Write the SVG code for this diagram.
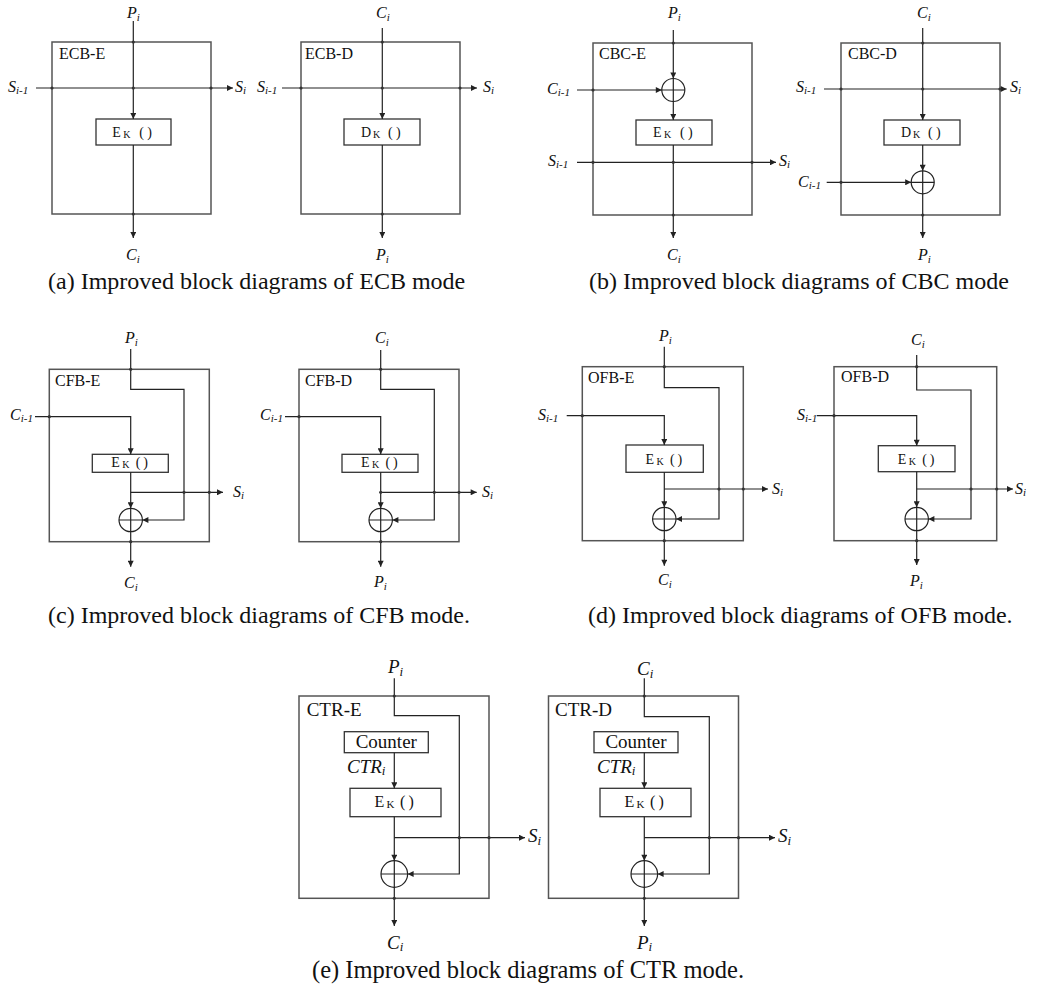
<svg xmlns="http://www.w3.org/2000/svg" width="1040" height="991" viewBox="0 0 1040 991">
<defs>
<marker id="ah" viewBox="0 0 10 10" refX="10" refY="5" markerWidth="8" markerHeight="6" markerUnits="userSpaceOnUse" orient="auto"><path d="M0,0 L10,5 L0,10 z" fill="#222"/></marker>
<style>
.box{fill:none;stroke:#555;stroke-width:1.5}
.blk{fill:#fff;stroke:#333;stroke-width:1.3}
.ln{fill:none;stroke:#222;stroke-width:1.2}
.arr{marker-end:url(#ah)}
.dot{fill:#333}
.xor{fill:#fff;stroke:#222;stroke-width:1.2}
.lab{font-family:"Liberation Serif",serif;font-style:italic;font-size:16px;fill:#111}
.lab3{font-family:"Liberation Serif",serif;font-style:italic;font-size:19px;fill:#111}
.sub{font-size:11px}
.sub3{font-size:13px}
.ttl{font-family:"Liberation Serif",serif;font-size:16px;fill:#111}
.ttl3{font-family:"Liberation Serif",serif;font-size:19px;fill:#111}
.ek{font-family:"Liberation Serif",serif;font-size:14px;fill:#111}
.ek3{font-family:"Liberation Serif",serif;font-size:16px;fill:#111}
.k{font-size:10px}
.k3{font-size:11px}
.cap{font-family:"Liberation Serif",serif;font-size:24px;fill:#111}
.cap3{font-family:"Liberation Serif",serif;font-size:24.5px;fill:#111}
</style>
</defs>
<rect width="1040" height="991" fill="#fff"/>

<!-- ===== ECB-E ===== -->
<g id="ecb-e">
<rect class="box" x="52" y="42" width="159" height="172"/>
<text class="ttl" x="59" y="59">ECB-E</text>
<rect class="blk" x="96" y="119" width="75" height="26"/>
<text class="ek" transform="translate(133.3,137)"><tspan x="-21" y="0">E</tspan><tspan class="k" x="-10" y="1">K</tspan><tspan x="6" y="0">(</tspan><tspan x="14" y="0">)</tspan></text>
</g>
<!-- ===== ECB-D ===== -->
<g id="ecb-d">
<rect class="box" x="301" y="42" width="159" height="172"/>
<text class="ttl" x="305" y="59">ECB-D</text>
<rect class="blk" x="344" y="119" width="76" height="26"/>
<text class="ek" transform="translate(382,137)"><tspan x="-21" y="0">D</tspan><tspan class="k" x="-9" y="1">K</tspan><tspan x="6" y="0">(</tspan><tspan x="14" y="0">)</tspan></text>
</g>
<!-- ===== CBC-E ===== -->
<g id="cbc-e">
<rect class="box" x="593" y="43" width="159" height="172"/>
<text class="ttl" x="599" y="59">CBC-E</text>
<rect class="blk" x="636" y="120" width="76" height="25"/>
<text class="ek" transform="translate(674,137)"><tspan x="-21" y="0">E</tspan><tspan class="k" x="-10" y="1">K</tspan><tspan x="6" y="0">(</tspan><tspan x="14" y="0">)</tspan></text>
<g id="cbc-e-xor"><circle class="xor" cx="673.3" cy="90" r="11.5"/><path class="ln" d="M661.8,90 H684.8 M673.3,78.5 V101.5"/></g>
</g>
<!-- ===== CBC-D ===== -->
<g id="cbc-d">
<rect class="box" x="841" y="43" width="159" height="172"/>
<text class="ttl" x="848" y="59">CBC-D</text>
<rect class="blk" x="884" y="120" width="76" height="25"/>
<text class="ek" transform="translate(922,137)"><tspan x="-21" y="0">D</tspan><tspan class="k" x="-9" y="1">K</tspan><tspan x="6" y="0">(</tspan><tspan x="14" y="0">)</tspan></text>
<g id="cbc-d-xor"><circle class="xor" cx="922.7" cy="182.3" r="11.5"/><path class="ln" d="M911.2,182.3 H934.2 M922.7,170.8 V193.8"/></g>
</g>

<!-- ===== CFB-E ===== -->
<g id="cfb-e">
<rect class="box" x="49.3" y="369.3" width="160" height="172.4"/>
<text class="ttl" x="55" y="386">CFB-E</text>
<rect class="blk" x="92.3" y="454.3" width="76" height="18"/>
<text class="ek" transform="translate(130.3,467)"><tspan x="-19" y="0">E</tspan><tspan class="k" x="-8" y="1">K</tspan><tspan x="5.5" y="0">(</tspan><tspan x="13" y="0">)</tspan></text>
<g id="cfb-e-xor"><circle class="xor" cx="130.7" cy="520" r="11.7"/><path class="ln" d="M119,520 H142.4 M130.7,508.3 V531.7"/></g>
</g>
<!-- ===== CFB-D ===== -->
<g id="cfb-d">
<rect class="box" x="299" y="369.3" width="160" height="172.4"/>
<text class="ttl" x="305" y="386">CFB-D</text>
<rect class="blk" x="342" y="454.3" width="76" height="18"/>
<text class="ek" transform="translate(380,467)"><tspan x="-19" y="0">E</tspan><tspan class="k" x="-8" y="1">K</tspan><tspan x="5.5" y="0">(</tspan><tspan x="13" y="0">)</tspan></text>
<g id="cfb-d-xor"><circle class="xor" cx="380.7" cy="520" r="11.7"/><path class="ln" d="M369,520 H392.4 M380.7,508.3 V531.7"/></g>
</g>
<!-- ===== OFB-E ===== -->
<g id="ofb-e">
<rect class="box" x="582.3" y="366.7" width="161" height="174"/>
<text class="ttl" x="588" y="383">OFB-E</text>
<rect class="blk" x="626" y="445" width="77.3" height="27.3"/>
<text class="ek" transform="translate(664.6,464)"><tspan x="-19" y="0">E</tspan><tspan class="k" x="-8" y="1">K</tspan><tspan x="5.5" y="0">(</tspan><tspan x="13" y="0">)</tspan></text>
<g id="ofb-e-xor"><circle class="xor" cx="664.3" cy="519" r="11.7"/><path class="ln" d="M652.6,519 H676 M664.3,507.3 V530.7"/></g>
</g>
<!-- ===== OFB-D ===== -->
<g id="ofb-d">
<rect class="box" x="834" y="366.7" width="162.7" height="174"/>
<text class="ttl" x="841" y="382">OFB-D</text>
<rect class="blk" x="878.3" y="445.7" width="76.7" height="26"/>
<text class="ek" transform="translate(916.7,464)"><tspan x="-19" y="0">E</tspan><tspan class="k" x="-8" y="1">K</tspan><tspan x="5.5" y="0">(</tspan><tspan x="13" y="0">)</tspan></text>
<g id="ofb-d-xor"><circle class="xor" cx="916.7" cy="519" r="11.7"/><path class="ln" d="M905,519 H928.4 M916.7,507.3 V530.7"/></g>
</g>

<!-- ===== CTR-E ===== -->
<g id="ctr-e">
<rect class="box" x="299" y="696" width="190" height="202.3"/>
<text class="ttl3" x="306.7" y="716">CTR-E</text>
<rect class="blk" x="344.3" y="731.7" width="84" height="21"/>
<text class="ttl3" x="386.3" y="747.5" text-anchor="middle">Counter</text>
<rect class="blk" x="350" y="788.3" width="91" height="28.4"/>
<text class="ek3" transform="translate(395.5,807)"><tspan x="-21" y="0">E</tspan><tspan class="k3" x="-9" y="1">K</tspan><tspan x="4.5" y="0">(</tspan><tspan x="13" y="0">)</tspan></text>
<g id="ctr-e-xor"><circle class="xor" cx="394.3" cy="874" r="13.3"/><path class="ln" d="M381,874 H407.6 M394.3,860.7 V887.3"/></g>
</g>
<!-- ===== CTR-D ===== -->
<g id="ctr-d">
<rect class="box" x="548.5" y="696" width="190" height="202.3"/>
<text class="ttl3" x="555" y="716">CTR-D</text>
<rect class="blk" x="594" y="731.7" width="84" height="21"/>
<text class="ttl3" x="636" y="747.5" text-anchor="middle">Counter</text>
<rect class="blk" x="600" y="788.3" width="91" height="28.4"/>
<text class="ek3" transform="translate(645.5,807)"><tspan x="-21" y="0">E</tspan><tspan class="k3" x="-9" y="1">K</tspan><tspan x="4.5" y="0">(</tspan><tspan x="13" y="0">)</tspan></text>
<g id="ctr-d-xor"><circle class="xor" cx="644.3" cy="874" r="13.3"/><path class="ln" d="M631,874 H657.6 M644.3,860.7 V887.3"/></g>
</g>

<!-- ===== connectors ===== -->
<g id="connectors">
<!-- ECB-E -->
<path class="ln arr" d="M133.3,21 V119"/>
<path class="ln arr" d="M133.3,145 V238"/>
<path class="ln arr" d="M36,88 H233"/>
<!-- ECB-D -->
<path class="ln arr" d="M382.3,28 V119"/>
<path class="ln arr" d="M382.3,145 V238"/>
<path class="ln arr" d="M282,88 H477"/>
<!-- CBC-E -->
<path class="ln arr" d="M673.3,30 V78.5"/>
<path class="ln arr" d="M673.3,101.5 V120"/>
<path class="ln arr" d="M673.3,145 V238"/>
<path class="ln arr" d="M577,90 H661.8"/>
<path class="ln arr" d="M577,162.3 H776"/>
<!-- CBC-D -->
<path class="ln arr" d="M922.7,28 V120"/>
<path class="ln arr" d="M824,89 H1006.7"/>
<path class="ln arr" d="M922.7,145 V170.8"/>
<path class="ln arr" d="M826.7,182.3 H911.2"/>
<path class="ln arr" d="M922.7,193.8 V238"/>
<!-- CFB-E -->
<path class="ln arr" d="M130.7,349 V389.3 H184 V520 H142.4"/>
<path class="ln arr" d="M35,416.7 H130.7 V454.3"/>
<path class="ln arr" d="M130.7,472.3 V508.3"/>
<path class="ln arr" d="M130.7,492.3 H223"/>
<path class="ln arr" d="M130.7,531.7 V566.7"/>
<!-- CFB-D -->
<path class="ln arr" d="M380.7,350 V389.3 H434.3 V520 H392.4"/>
<path class="ln arr" d="M285,416.7 H380.7 V454.3"/>
<path class="ln arr" d="M380.7,472.3 V508.3"/>
<path class="ln arr" d="M380.7,492.3 H476.7"/>
<path class="ln arr" d="M380.7,531.7 V566.7"/>
<!-- OFB-E -->
<path class="ln arr" d="M664.3,346.7 V387.7 H719 V519 H676"/>
<path class="ln arr" d="M566.7,415.7 H664.3 V445"/>
<path class="ln arr" d="M664.3,472.3 V507.3"/>
<path class="ln arr" d="M664.3,489 H768"/>
<path class="ln arr" d="M664.3,530.7 V565.7"/>
<!-- OFB-D -->
<path class="ln arr" d="M916.7,355 V390 H971 V519 H928.4"/>
<path class="ln arr" d="M816.7,415.7 H916.7 V445.7"/>
<path class="ln arr" d="M916.7,471.7 V507.3"/>
<path class="ln arr" d="M916.7,489 H1013"/>
<path class="ln arr" d="M916.7,530.7 V565"/>
<!-- CTR-E -->
<path class="ln arr" d="M394.3,678.3 V715.7 H459.3 V874 H407.6"/>
<path class="ln arr" d="M394.3,752.7 V788.3"/>
<path class="ln arr" d="M394.3,816.7 V860.7"/>
<path class="ln arr" d="M394.3,837.7 H525"/>
<path class="ln arr" d="M394.3,887.3 V926"/>
<!-- CTR-D -->
<path class="ln arr" d="M644.3,678.3 V716.7 H709.3 V874 H657.6"/>
<path class="ln arr" d="M644.3,752.7 V788.3"/>
<path class="ln arr" d="M644.3,816.7 V860.7"/>
<path class="ln arr" d="M644.3,837.7 H775"/>
<path class="ln arr" d="M644.3,887.3 V926"/>

<!-- junction dots -->
<g class="dot">
<circle cx="133.3" cy="42" r="1.6"/><circle cx="52" cy="88" r="1.6"/><circle cx="133.3" cy="88" r="1.6"/><circle cx="211" cy="88" r="1.6"/><circle cx="133.3" cy="214" r="1.6"/>
<circle cx="382.3" cy="42" r="1.6"/><circle cx="301" cy="88" r="1.6"/><circle cx="382.3" cy="88" r="1.6"/><circle cx="460" cy="88" r="1.6"/><circle cx="382.3" cy="214" r="1.6"/>
<circle cx="673.3" cy="43" r="1.6"/><circle cx="593" cy="90" r="1.6"/><circle cx="593" cy="162.3" r="1.6"/><circle cx="673.3" cy="162.3" r="1.6"/><circle cx="752" cy="162.3" r="1.6"/><circle cx="673.3" cy="215" r="1.6"/>
<circle cx="922.7" cy="43" r="1.6"/><circle cx="841" cy="89" r="1.6"/><circle cx="922.7" cy="89" r="1.6"/><circle cx="1000" cy="89" r="1.6"/><circle cx="841" cy="182.3" r="1.6"/><circle cx="922.7" cy="215" r="1.6"/>
<circle cx="130.7" cy="369.3" r="1.6"/><circle cx="49.3" cy="416.7" r="1.6"/><circle cx="184" cy="492.3" r="1.6"/><circle cx="209.3" cy="492.3" r="1.6"/><circle cx="130.7" cy="541.7" r="1.6"/>
<circle cx="380.7" cy="369.3" r="1.6"/><circle cx="299" cy="416.7" r="1.6"/><circle cx="380.7" cy="492.3" r="1.6"/><circle cx="434.3" cy="492.3" r="1.6"/><circle cx="459" cy="492.3" r="1.6"/><circle cx="380.7" cy="541.7" r="1.6"/>
<circle cx="664.3" cy="366.7" r="1.6"/><circle cx="582.3" cy="415.7" r="1.6"/><circle cx="719" cy="489" r="1.6"/><circle cx="743.3" cy="489" r="1.6"/><circle cx="664.3" cy="540.7" r="1.6"/>
<circle cx="916.7" cy="366.7" r="1.6"/><circle cx="834" cy="415.7" r="1.6"/><circle cx="971" cy="489" r="1.6"/><circle cx="996.7" cy="489" r="1.6"/><circle cx="916.7" cy="540.7" r="1.6"/>
<circle cx="394.3" cy="696" r="1.6"/><circle cx="459.3" cy="837.7" r="1.6"/><circle cx="489" cy="837.7" r="1.6"/><circle cx="394.3" cy="898.3" r="1.6"/>
<circle cx="644.3" cy="696" r="1.6"/><circle cx="709.3" cy="837.7" r="1.6"/><circle cx="738.5" cy="837.7" r="1.6"/><circle cx="644.3" cy="898.3" r="1.6"/>
</g>
</g>

<!-- ===== terminal labels ===== -->
<g id="labels">
<!-- ECB-E -->
<text class="lab" x="127" y="18">P<tspan class="sub" dy="3">i</tspan></text>
<text class="lab" x="8" y="92">S<tspan class="sub" dy="2">i-1</tspan></text>
<text class="lab" x="235" y="92">S<tspan class="sub" dy="2">i</tspan></text>
<text class="lab" x="126" y="260">C<tspan class="sub" dy="3">i</tspan></text>
<!-- ECB-D -->
<text class="lab" x="376" y="18">C<tspan class="sub" dy="3">i</tspan></text>
<text class="lab" x="257" y="92">S<tspan class="sub" dy="2">i-1</tspan></text>
<text class="lab" x="483" y="92">S<tspan class="sub" dy="2">i</tspan></text>
<text class="lab" x="376" y="260">P<tspan class="sub" dy="3">i</tspan></text>
<!-- CBC-E -->
<text class="lab" x="668" y="18">P<tspan class="sub" dy="3">i</tspan></text>
<text class="lab" x="547" y="94">C<tspan class="sub" dy="2">i-1</tspan></text>
<text class="lab" x="548" y="166">S<tspan class="sub" dy="2">i-1</tspan></text>
<text class="lab" x="779" y="166">S<tspan class="sub" dy="2">i</tspan></text>
<text class="lab" x="667" y="260">C<tspan class="sub" dy="3">i</tspan></text>
<!-- CBC-D -->
<text class="lab" x="917" y="18">C<tspan class="sub" dy="3">i</tspan></text>
<text class="lab" x="796" y="92">S<tspan class="sub" dy="2">i-1</tspan></text>
<text class="lab" x="1010" y="92">S<tspan class="sub" dy="2">i</tspan></text>
<text class="lab" x="798" y="187">C<tspan class="sub" dy="2">i-1</tspan></text>
<text class="lab" x="918" y="260">P<tspan class="sub" dy="3">i</tspan></text>
<!-- CFB-E -->
<text class="lab" x="125" y="343">P<tspan class="sub" dy="3">i</tspan></text>
<text class="lab" x="10" y="420">C<tspan class="sub" dy="2">i-1</tspan></text>
<text class="lab" x="233" y="497">S<tspan class="sub" dy="2">i</tspan></text>
<text class="lab" x="124" y="588">C<tspan class="sub" dy="3">i</tspan></text>
<!-- CFB-D -->
<text class="lab" x="375" y="343">C<tspan class="sub" dy="3">i</tspan></text>
<text class="lab" x="260" y="420">C<tspan class="sub" dy="2">i-1</tspan></text>
<text class="lab" x="482" y="497">S<tspan class="sub" dy="2">i</tspan></text>
<text class="lab" x="374" y="587">P<tspan class="sub" dy="3">i</tspan></text>
<!-- OFB-E -->
<text class="lab" x="659" y="341">P<tspan class="sub" dy="3">i</tspan></text>
<text class="lab" x="538" y="420">S<tspan class="sub" dy="2">i-1</tspan></text>
<text class="lab" x="772" y="494">S<tspan class="sub" dy="2">i</tspan></text>
<text class="lab" x="658" y="585">C<tspan class="sub" dy="3">i</tspan></text>
<!-- OFB-D -->
<text class="lab" x="911" y="345">C<tspan class="sub" dy="3">i</tspan></text>
<text class="lab" x="797" y="420">S<tspan class="sub" dy="2">i-1</tspan></text>
<text class="lab" x="1015" y="494">S<tspan class="sub" dy="2">i</tspan></text>
<text class="lab" x="910" y="586">P<tspan class="sub" dy="3">i</tspan></text>
<!-- CTR-E -->
<text class="lab3" x="388" y="673">P<tspan class="sub3" dy="3">i</tspan></text>
<text class="lab3" x="347" y="773">CTR<tspan class="sub3" dy="2">i</tspan></text>
<text class="lab3" x="528" y="842">S<tspan class="sub3" dy="3">i</tspan></text>
<text class="lab3" x="387" y="949">C<tspan class="sub3" dy="2">i</tspan></text>
<!-- CTR-D -->
<text class="lab3" x="637" y="675">C<tspan class="sub3" dy="3">i</tspan></text>
<text class="lab3" x="597" y="773">CTR<tspan class="sub3" dy="2">i</tspan></text>
<text class="lab3" x="778" y="842">S<tspan class="sub3" dy="3">i</tspan></text>
<text class="lab3" x="637" y="949">P<tspan class="sub3" dy="2">i</tspan></text>
</g>

<!-- ===== captions ===== -->
<g id="captions">
<text class="cap" x="48" y="289">(a) Improved block diagrams of ECB mode</text>
<text class="cap" x="589" y="289">(b) Improved block diagrams of CBC mode</text>
<text class="cap" x="48" y="623">(c) Improved block diagrams of CFB mode.</text>
<text class="cap" x="588" y="623">(d) Improved block diagrams of OFB mode.</text>
<text class="cap3" x="312" y="978">(e) Improved block diagrams of CTR mode.</text>
</g>
</svg>
